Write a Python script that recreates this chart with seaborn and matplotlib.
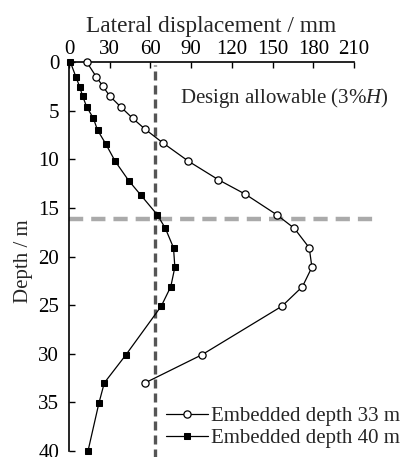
import matplotlib
matplotlib.use("Agg")
import matplotlib.pyplot as plt
import seaborn as sns
import pandas as pd

depth_33 = [0, 1.5, 2.5, 3.5, 4.6, 5.8, 6.9, 8.3, 10.2, 12.1, 13.6, 15.7, 17.1, 19.1, 21.1, 23.1, 25.1, 30.1, 33.0]
disp_33 = [13, 20, 25, 30, 38, 47, 56, 69, 88, 110, 130, 153, 166, 177, 179, 172, 157, 98, 56]
depth_40 = [0, 1.5, 2.6, 3.5, 4.6, 5.8, 7.0, 8.4, 10.2, 12.2, 13.7, 15.7, 17.1, 19.1, 21.1, 23.1, 25.1, 30.1, 33.0, 35.1, 40.0]
disp_40 = [1, 5, 8, 10, 13, 18, 21, 27, 34, 44, 53, 65, 71, 77, 78, 75, 68, 42, 26, 22, 14]
allowable = 63
excavation_depth = 16.1
labels = ["Embedded depth 33 m", "Embedded depth 40 m"]
xticks = [0, 30, 60, 90, 120, 150, 180, 210]
yticks = [0, 5, 10, 15, 20, 25, 30, 35, 40]

sns.set_style("ticks")
plt.rcParams['font.family'] = ['Liberation Serif', 'DejaVu Serif']
plt.rcParams['mathtext.fontset'] = 'custom'
plt.rcParams['mathtext.it'] = 'Liberation Serif:italic'
plt.rcParams['mathtext.rm'] = 'Liberation Serif'

FS = 15

df33 = pd.DataFrame({"disp": disp_33, "depth": depth_33})
df40 = pd.DataFrame({"disp": disp_40, "depth": depth_40})

fig = plt.figure(figsize=(4.07, 4.57), dpi=100)
ax = fig.add_axes([69/407, 1 - 451/457, (354-69)/407, (451-62)/457])

ax.axvline(allowable, color="#555555", lw=2.4, ls=(0, (2.7, 1.5)), zorder=1, clip_on=False, ymin=-0.02, ymax=0.993)
ax.plot([0, 224], [excavation_depth]*2, color="#aaaaaa", lw=3.2, ls=(0, (3.2, 1.8)), zorder=1, clip_on=False)

sns.lineplot(data=df33, x="disp", y="depth", sort=False, estimator=None, ax=ax, color="black",
             lw=0.9, marker="o", markersize=5.2, markerfacecolor="white", markeredgecolor="black",
             markeredgewidth=0.9, label=labels[0], zorder=3, clip_on=False)
sns.lineplot(data=df40, x="disp", y="depth", sort=False, estimator=None, ax=ax, color="black",
             lw=0.9, marker="s", markersize=5, markerfacecolor="black", markeredgecolor="black",
             label=labels[1], zorder=3, clip_on=False)

ax.set_xlim(0, 210)
ax.set_ylim(40, 0)
ax.set_xticks(xticks)
ax.set_yticks(yticks)
ax.xaxis.tick_top()
ax.xaxis.set_label_position("top")
ax.tick_params(direction="in", labelsize=FS, length=4, width=1, colors="black")
ax.tick_params(axis="x", pad=2)
ax.tick_params(axis="y", pad=7)
for s in ["right", "bottom"]:
    ax.spines[s].set_visible(False)
for s in ["left", "top"]:
    ax.spines[s].set_linewidth(1.2)
    ax.spines[s].set_color("black")
ax.set_xlabel("Lateral displacement / mm", fontsize=16.8, labelpad=6)
ax.set_ylabel("Depth / m", fontsize=FS, labelpad=4)
ax.yaxis.label.set_y(0.487)

fig.text(180/407, 1 - 98/457, "Design allowable (3%$\\mathit{H}$)", fontsize=FS, va="center", ha="left")

leg = ax.legend(loc="lower left", bbox_to_anchor=(166/407, 1 - 448/457), bbox_transform=fig.transFigure,
                frameon=False, fontsize=FS, handlelength=2.0, handletextpad=0.15, labelspacing=0.1,
                borderaxespad=0, borderpad=0.0)

fig.savefig("out.png", dpi=100)
